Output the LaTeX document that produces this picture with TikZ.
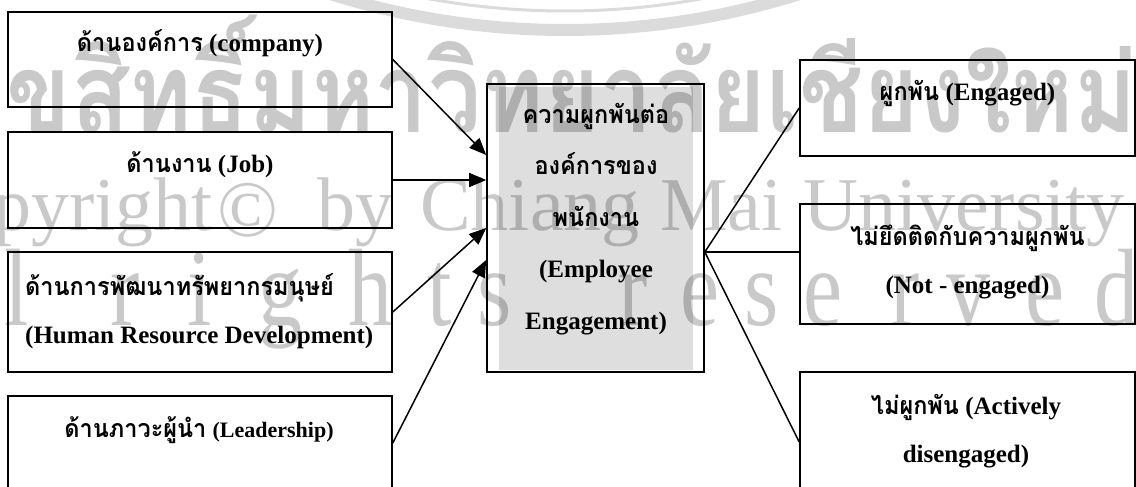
\documentclass[tikz,border=0pt]{standalone}
\usepackage{fontspec}
\setmainfont{Liberation Serif}
\newfontfamily\thai[Script=Thai, FakeStretch=0.94]{Loma}
\usetikzlibrary{arrows.meta}
\newcommand\thx[1]{{\thai #1}}
\begin{document}
\begin{tikzpicture}[x=1pt,y=-1pt,
  box/.style={draw, line width=1.6pt, inner sep=0pt},
  lab/.style={font=\fontsize{25}{48}\selectfont\bfseries, align=center, anchor=base, inner sep=0pt},
  conn/.style={line width=1.5pt},
  arr/.style={conn, -{Triangle[length=17pt,width=14pt]}},
  wm/.style={text=black, text opacity=0.21, inner sep=0pt},
  wmlat/.style={wm, font=\fontsize{76}{76}\selectfont, anchor=base},
]
\useasboundingbox (0,0) rectangle (1136,487);
\fill[white] (0,0) rectangle (1136,487);

% boxes
\node[box, minimum width=384pt, minimum height=95pt] (L1) at (200,59.5) {};
\node[box, minimum width=384pt, minimum height=96pt] (L2) at (200,180) {};
\node[box, minimum width=384pt, minimum height=120pt] (L3) at (200,312) {};
\node[box, minimum width=384pt, minimum height=94pt] (L4) at (200,443) {};
\node[box, minimum width=217pt, minimum height=288pt] (C) at (595.5,228) {};
\fill[black!13] ([shift={(13,4)}]C.north west) rectangle ([shift={(-12,-3)}]C.south east);
\node[box, minimum width=217pt, minimum height=288pt] (C2) at (595.5,228) {};
\node[box, minimum width=335pt, minimum height=96pt] (R1) at (967.5,108) {};
\node[box, minimum width=335pt, minimum height=120pt] (R2) at (967.5,264) {};
\node[box, minimum width=335pt, minimum height=140pt] (R3) at (967.5,442) {};

% texts (anchor base = baseline of the last line)
\node[lab] (tL1) at (200,52) {\thx{ด้านองค์การ} (company)};
\node[lab] (tL2) at (200,172) {\thx{ด้านงาน} (Job)};
\node[lab, align=left, anchor=base west] (tL3) at (25,343) {\thx{ด้านการพัฒนาทรัพยากรมนุษย์}\\(Human Resource Development)};
\node[lab] (tL4) at (199,437) {\thx{ด้านภาวะผู้นำ} {\fontsize{22}{22}\selectfont(Leadership)}};
\node[lab, font=\fontsize{25}{51.5}\selectfont\bfseries] (tC) at (596,329) {\thx{ความผูกพันต่อ}\\\thx{องค์การของ}\\\thx{พนักงาน}\\(Employee\\Engagement)};
\node[lab] (tR1) at (967.5,100) {\thx{ผูกพัน} (Engaged)};
\node[lab] (tR2) at (967.5,293) {\thx{ไม่ยึดติดกับความผูกพัน}\\(Not - engaged)};
\node[lab] (tR3) at (966,462) {\thx{ไม่ผูกพัน} (Actively\\disengaged)};

% connectors
\draw[arr] (L1.east) -- ([yshift=73pt]C.west);
\draw[arr] (L2.east) -- ([yshift=48pt]C.west);
\draw[arr] (L3.east) -- (C.west);
\draw[arr] (L4.east) -- ([yshift=-32pt]C.west);
\coordinate (Cout) at ([yshift=-24pt]C.east);
\draw[conn] (Cout) -- (R1.west);
\draw[conn] (Cout) -- (Cout -| R2.west);
\draw[conn] (Cout) -- (R3.west);

% watermark
\begin{scope}
\clip (0,0) rectangle (1136,487);
\draw[black, draw opacity=0.14, line width=12pt] (565,-749) circle[radius=779];
\draw[black, draw opacity=0.14, line width=3pt] (565,-749) circle[radius=760];
\node[wm, anchor=base east] (wt) at (1137,132) {\scalebox{0.673}[0.74]{\fontsize{150}{150}\selectfont\bfseries\thai ลิขสิทธิ์มหาวิทยาลัยเชียงใหม่}};
\node[wmlat, anchor=base east] (wc1) at (213,230) {Copyright};
\node[wmlat, anchor=base west] (wc2) at (217,236) {\fontsize{80}{80}\selectfont ©};
\node[wmlat, anchor=base west] (wc3) at (317,230) {by};
\node[wmlat, anchor=base west] (wc4) at (420,230) {Chiang};
\node[wmlat, anchor=base west] (wc5) at (660,230) {Mai};
\node[wmlat, anchor=base east] (wc6) at (1125,230) {University};
\foreach \ch/\xx [count=\i] in {A/-140,l/-60,l/17,r/125,i/200,g/280,h/370,t/440,s/495,r/633,e/700,s/762,e/823,r/905,v/968,e/1045,d/1116}
  \node[wm, font=\fontsize{110}{110}\selectfont, anchor=base] (wr\i) at (\xx,325) {\scalebox{0.8}[1]{\ch}};
\end{scope}
\end{tikzpicture}
\end{document}
